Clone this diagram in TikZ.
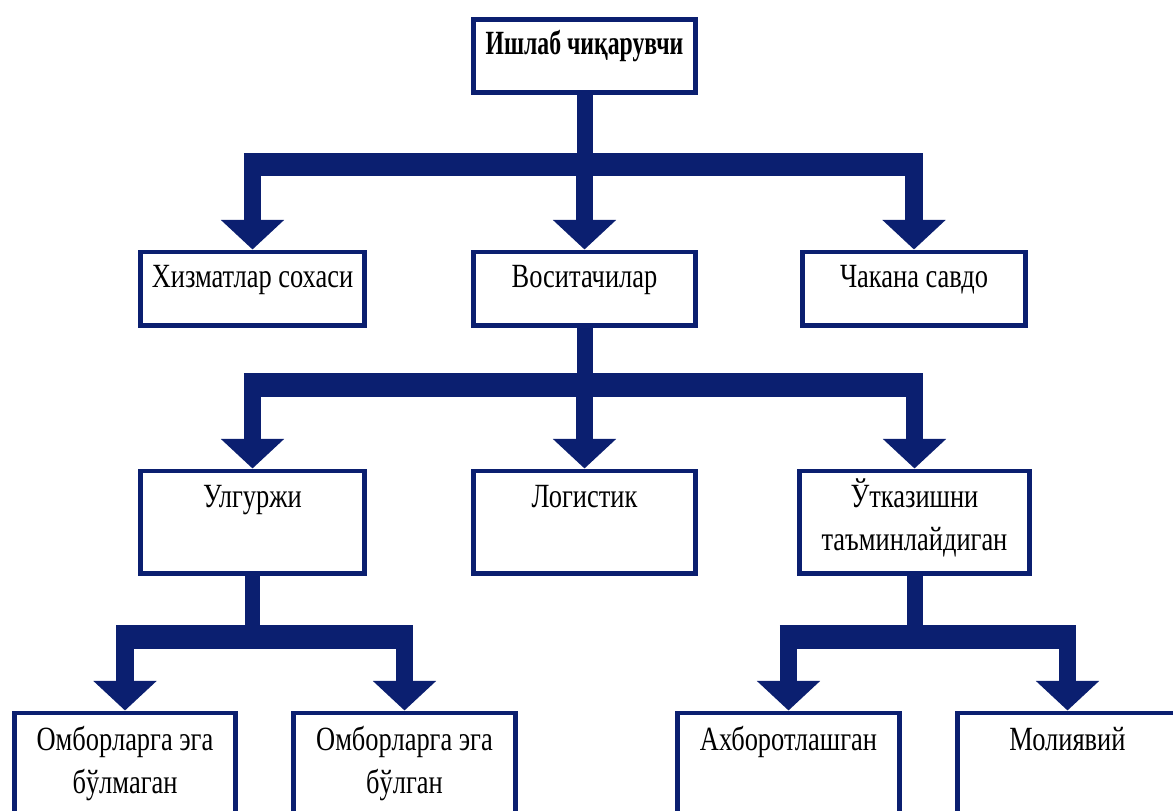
\documentclass[tikz,border=0pt]{standalone}
\usepackage{fontspec}
\setmainfont{Liberation Serif}[FakeStretch=0.78,
    BoldFeatures={FakeStretch=0.7}]
\usetikzlibrary{arrows.meta}
\definecolor{flowblue}{HTML}{0B1F70}

\begin{document}
\begin{tikzpicture}[x=0.02cm, y=-0.02cm,
    box/.style={draw=flowblue, line width=2.8pt, fill=white, inner sep=0pt,
        align=flush center, anchor=north, font=\fontsize{19.3}{24.5}\selectfont},
    row1/.style={text height=20.2pt, text depth=21.9pt},
    row2/.style={text height=20.8pt, text depth=37.8pt},
    row3/.style={text height=21.3pt, text depth=46.7pt},
    stem/.style={flowblue, line width=9.1pt},
    bus/.style={flowblue, line width=13.6pt, shorten <=-4.9pt, shorten >=-4.9pt},
    drop/.style={flowblue, line width=9.7pt, -{Triangle[width=35pt, length=16.8pt]}}]

    \useasboundingbox (0,0) rectangle (1173,811);
    \clip (0,0) rectangle (1173,811);
    \fill[white] (0,0) rectangle (1173,811);

    % bus levels
    \coordinate (bar1) at (0,164.5);
    \coordinate (bar2) at (0,385);
    \coordinate (bar3) at (0,637);

    % Ишлаб чиқарувчи
    \node[box, text width=126.3pt, text height=19.6pt, text depth=21.9pt,
        font=\fontsize{19.3}{24.5}\selectfont\bfseries] (top) at (584.5,17.5) {Ишлаб чиқарувчи};

    % level 1
    \node[box, row1, text width=127.5pt] (hiz) at (252.5,249.5) {Хизматлар сохаси};
    \node[box, row1, text width=126.3pt] (vos) at (584.5,249.5) {Воситачилар};
    \node[box, row1, text width=127pt] (chak) at (914,249.5) {Чакана савдо};

    % level 2
    \node[box, row2, text width=127.5pt] (ulg) at (252.5,468.5) {Улгуржи};
    \node[box, row2, text width=126.3pt] (log) at (584.5,468.5) {Логистик};
    \node[box, row2, text width=130.9pt] (utk) at (914.5,468.5) {Ўтказишни\\таъминлайдиган};

    % level 3
    \node[box, row3, text width=125.8pt] (omb1) at (125,710.5) {Омборларга эга\\бўлмаган};
    \node[box, row3, text width=126.3pt] (omb2) at (404.5,710.5) {Омборларга эга\\бўлган};
    \node[box, row3, text width=126.3pt] (axb) at (788.5,710.5) {Ахборотлашган};
    \node[box, row3, text width=125.2pt] (mol) at (1067.5,710.5) {Молиявий};

    % top -> level 1
    \draw[stem] (top.south) -- (top.south |- bar1);
    \draw[bus] (hiz.north |- bar1) -- (chak.north |- bar1);
    \foreach \n in {hiz, vos, chak}
        \draw[drop] (\n.north |- bar1) -- (\n.north);

    % Воситачилар -> level 2
    \draw[stem] (vos.south) -- (vos.south |- bar2);
    \draw[bus] (ulg.north |- bar2) -- (utk.north |- bar2);
    \foreach \n in {ulg, log, utk}
        \draw[drop] (\n.north |- bar2) -- (\n.north);

    % Улгуржи -> level 3
    \draw[stem] (ulg.south) -- (ulg.south |- bar3);
    \draw[bus] (omb1.north |- bar3) -- (omb2.north |- bar3);
    \foreach \n in {omb1, omb2}
        \draw[drop] (\n.north |- bar3) -- (\n.north);

    % Ўтказишни таъминлайдиган -> level 3
    \draw[stem] (utk.south) -- (utk.south |- bar3);
    \draw[bus] (axb.north |- bar3) -- (mol.north |- bar3);
    \foreach \n in {axb, mol}
        \draw[drop] (\n.north |- bar3) -- (\n.north);
\end{tikzpicture}
\end{document}
